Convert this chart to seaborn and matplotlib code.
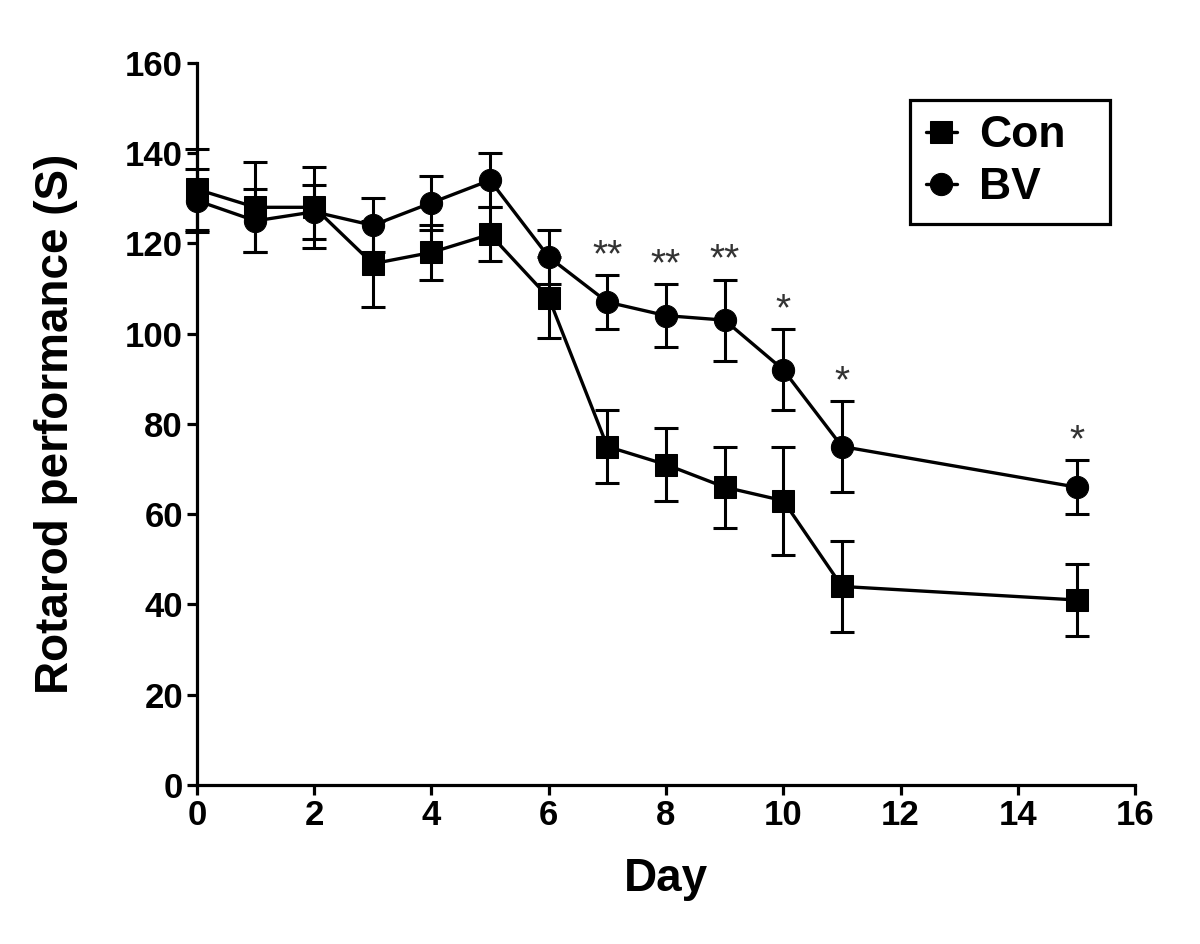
import numpy as np
import pandas as pd
import matplotlib
matplotlib.use('Agg')
import matplotlib.pyplot as plt
import seaborn as sns

days = [0, 1, 2, 3, 4, 5, 6, 7, 8, 9, 10, 11, 15]
con_mean = [132, 128, 128, 115.5, 118, 122, 108, 75, 71, 66, 63, 44, 41]
con_err = [9, 10, 9, 9.5, 6, 6, 9, 8, 8, 9, 12, 10, 8]
bv_mean = [129.5, 125, 127, 124, 129, 134, 117, 107, 104, 103, 92, 75, 66]
bv_err = [7, 7, 6, 6, 6, 6, 6, 6, 7, 9, 9, 10, 6]
stars = ['', '', '', '', '', '', '', '**', '**', '**', '*', '*', '*']

df = pd.concat([
    pd.DataFrame({'Day': days, 'value': con_mean, 'err': con_err, 'group': 'Con'}),
    pd.DataFrame({'Day': days, 'value': bv_mean, 'err': bv_err, 'group': 'BV'}),
])

sns.set_style('ticks', {'axes.edgecolor': 'black', 'text.color': 'black',
                        'xtick.color': 'black', 'ytick.color': 'black',
                        'axes.labelcolor': 'black'})
plt.rcParams['font.family'] = ['Liberation Sans', 'DejaVu Sans']
plt.rcParams['font.weight'] = 'bold'

fig = plt.figure(figsize=(12, 9.44), dpi=100)
ax = fig.add_axes([0.164, 0.1684, 0.782, 0.765])

# error bars first, then the lines and markers on top
for g in ['Con', 'BV']:
    d = df[df['group'] == g]
    eb = ax.errorbar(d['Day'], d['value'], yerr=d['err'], fmt='none', ecolor='black',
                     elinewidth=2.2, capsize=8.5, capthick=2.2, zorder=2)
    for art in eb.lines[1] + eb.lines[2]:
        art.set_clip_on(False)

sns.lineplot(data=df, x='Day', y='value', hue='group', style='group',
             markers={'Con': 's', 'BV': 'o'}, dashes=False,
             palette={'Con': 'black', 'BV': 'black'}, linewidth=2.4,
             markersize=16, markeredgecolor='black', ax=ax, zorder=3)
for ln in ax.lines:
    ln.set_clip_on(False)

# significance stars above BV upper caps
for d, m, e, s in zip(days, bv_mean, bv_err, stars):
    if s:
        ax.text(d, m + e + 2, s, ha='center', va='baseline', fontsize=28,
                fontweight='normal', color='#333333')

ax.set_xlim(0, 16)
ax.set_ylim(0, 160)
ax.set_xticks(range(0, 17, 2))
ax.set_yticks(range(0, 161, 20))
ax.set_xlabel('Day', fontsize=33, fontweight='bold', labelpad=18)
ax.set_ylabel('Rotarod performance (S)', fontsize=33, fontweight='bold', labelpad=34)
ax.tick_params(axis='both', labelsize=25, width=2.3, length=7, pad=3, direction='out')
for lab in ax.get_xticklabels() + ax.get_yticklabels():
    lab.set_fontweight('bold')
sns.despine(ax=ax)
for sp in ['left', 'bottom']:
    ax.spines[sp].set_linewidth(2.3)

leg = ax.legend(title=None, loc='upper left', bbox_to_anchor=(0.760, 0.80, 0.213, 0.149),
                mode='expand', borderaxespad=0, fontsize=32, frameon=True, fancybox=False,
                handlelength=0.7, handletextpad=0.5, borderpad=0.35,
                labelspacing=0.25, framealpha=1)
leg.get_frame().set_edgecolor('black')
leg.get_frame().set_linewidth(2.3)
for t in leg.get_texts():
    t.set_fontweight('bold')

fig.savefig('out.png', dpi=100)
